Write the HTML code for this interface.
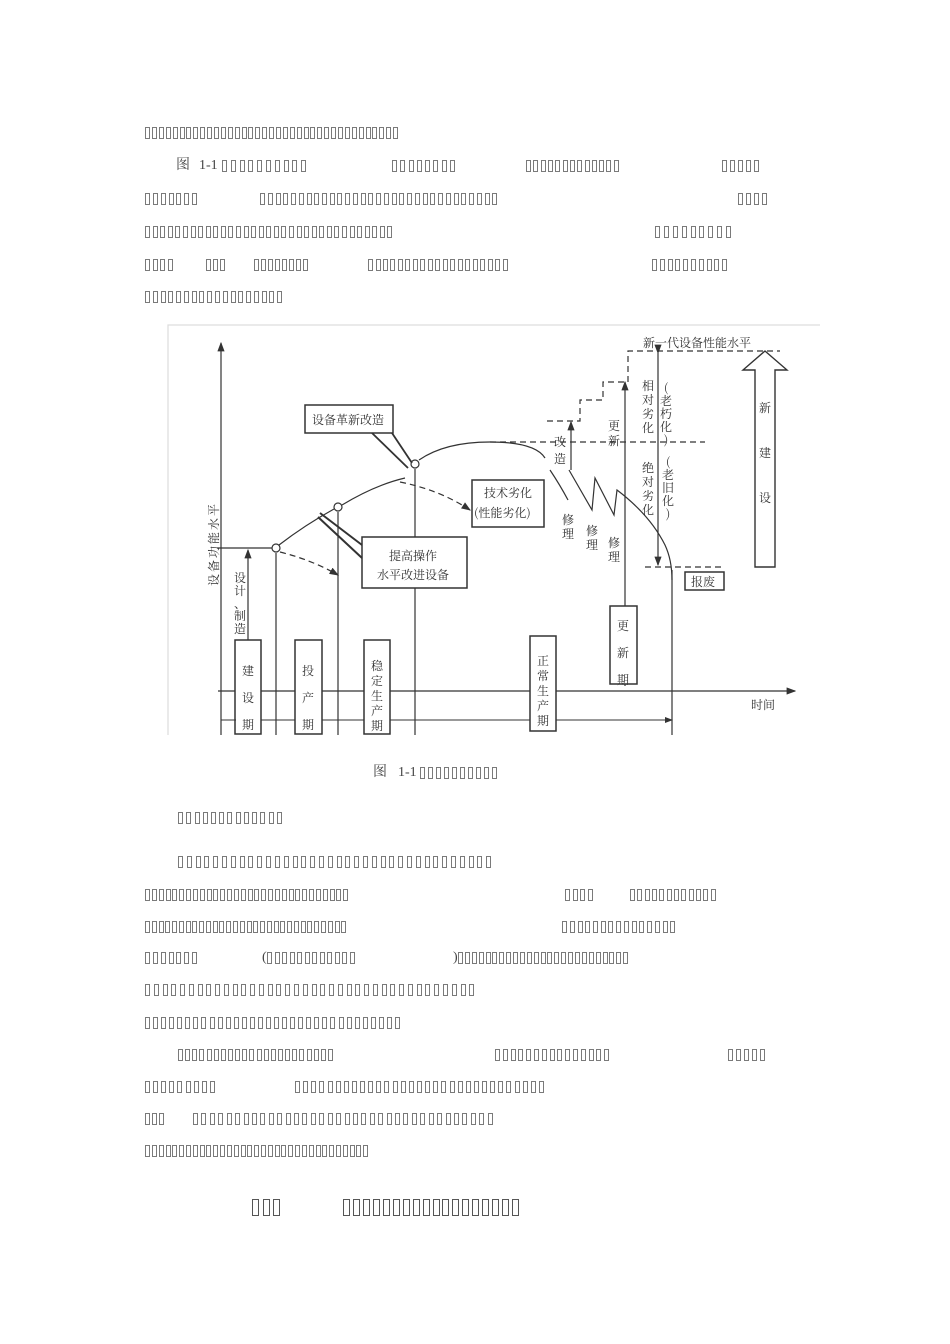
<!DOCTYPE html>
<html><head><meta charset="utf-8"><style>
html,body{margin:0;padding:0;background:#fff}
#p{position:relative;width:950px;height:1344px;overflow:hidden;font-family:"Liberation Serif","Noto Serif CJK SC",serif}
.b{position:absolute;border:1px solid #7a7a7a;box-sizing:border-box}
.t{position:absolute;font-size:14px;line-height:14px;color:#444}
svg text{font-family:"Noto Serif CJK SC","WenQuanYi Zen Hei",serif;fill:#333}
</style></head><body><div id="p">
<span class="t" style="left:176px;top:159px">图</span>
<span class="t" style="left:199px;top:159px">1-1</span>
<span class="t" style="left:262px;top:951px">(</span>
<span class="t" style="left:453px;top:951px">)</span>
<span class="t" style="left:373px;top:766px">图</span>
<span class="t" style="left:398px;top:766px">1-1</span>
<svg width="950" height="1344" style="position:absolute;left:0;top:0" stroke="#333" fill="none" stroke-width="1.2">
<defs><marker id="a" markerWidth="8" markerHeight="6" refX="7" refY="3" orient="auto"><path d="M0,0L8,3L0,6z" fill="#333" stroke="none"/></marker></defs>
<path d="M168,735V325H820" stroke="#ddd"/>
<path d="M221,735V343" marker-end="url(#a)"/>
<path d="M218,691H795" marker-end="url(#a)"/>
<path d="M217,548H276"/>
<path d="M248,640V550" marker-end="url(#a)"/>
<path d="M276,553V735M338,512V735M415,469V735M672,570V735"/>
<path d="M625,686V382" marker-end="url(#a)"/>
<path d="M279,545Q305,525 334,509"/>
<path d="M342,505Q375,485 405,478"/>
<path d="M419,460Q445,442 490,442Q535,442 545,458"/>
<path d="M550,470Q560,485 568,500"/>
<path d="M571,470V422" marker-end="url(#a)"/>
<path d="M569,470L592,510L595,478L614,515L617,490Q650,515 665,545Q672,560 672,580"/>
<path d="M280,552Q312,560 338,575" stroke-dasharray="6,4" marker-end="url(#a)"/>
<path d="M400,482Q440,490 470,510" stroke-dasharray="6,4" marker-end="url(#a)"/>
<path d="M490,442H705" stroke-dasharray="6,4"/>
<path d="M547,421H580V400H603V382H628V351H780" stroke-dasharray="6,4"/>
<path d="M645,567H725" stroke-dasharray="6,4"/>
<path d="M658,353V565" marker-end="url(#a)" marker-start="url(#a)"/>
<circle cx="276" cy="548" r="4" fill="#fff"/><circle cx="338" cy="507" r="4" fill="#fff"/><circle cx="415" cy="464" r="4" fill="#fff"/>
<path d="M755,567V370H743L765,351L787,370H775V567Z" stroke-width="1.4"/>
<rect x="305" y="405" width="88" height="28" fill="#fff" stroke-width="1.5"/>
<path d="M372,433L408,468M392,433L412,463" stroke-width="1.8"/>
<rect x="472" y="480" width="72" height="47" fill="#fff" stroke-width="1.5"/>
<rect x="362" y="537" width="105" height="51" fill="#fff" stroke-width="1.5"/>
<path d="M362,545L320,513M362,558L318,517" stroke-width="2"/>
<rect x="685" y="572" width="39" height="18" stroke-width="1.5"/>
<rect x="235" y="640" width="26" height="94" fill="#fff" stroke-width="1.5"/>
<rect x="295" y="640" width="27" height="94" fill="#fff" stroke-width="1.5"/>
<rect x="364" y="640" width="26" height="94" fill="#fff" stroke-width="1.5"/>
<rect x="530" y="636" width="26" height="95" fill="#fff" stroke-width="1.5"/>
<rect x="610" y="606" width="27" height="78" fill="#fff" stroke-width="1.5"/>
<path d="M221,720H235M261,720H276M276,720H295M322,720H338M338,720H364M390,720H415M415,720H530M556,720H672" stroke-width="1"/>
<path d="M228,720h8M268,720h8M284,720h-8M330,720h8M346,720h-8M408,720h7M423,720h-8M664,720h8" marker-end="url(#a)" stroke-width="1"/>
<g stroke="none" font-size="12">
<text x="312" y="424">设备革新改造</text>
<text x="484" y="497">技术劣化</text>
<text x="474" y="517">(性能劣化)</text>
<text x="389" y="560">提高操作</text>
<text x="377" y="579">水平改进设备</text>
<text x="691" y="586">报废</text>
<text x="643" y="347">新一代设备性能水平</text>
<text x="751" y="709" font-size="12">时间</text>
</g>
<g stroke="none" font-size="12" text-anchor="middle">
<g id="v"></g>
</g>
</svg>
<div id="bx"></div>
</div>
<script>
var V=[[218,580,"设备功能水平",-14,1],[240,572,"设计、",13],[240,610,"制造",13],[248,665,"建设期",27],[308,665,"投产期",27],[377,660,"稳定生产期",15],[543,655,"正常生产期",15],[623,620,"更新期",27],
[765,402,"新建设",45],[560,436,"改造",17],[614,420,"更新",15],[648,380,"相对劣化",14],[666,382,"(老朽化)",13],[648,462,"绝对劣化",14],[668,456,"(老旧化)",13],[568,514,"修理",14],[592,525,"修理",14],[614,537,"修理",14]];
var g=document.getElementById('v'),s='';
V.forEach(function(a){var ch=a[2].split('');ch.forEach(function(c,i){var y=a[1]+i*a[3];
if(a[4])s+='<text x="'+a[0]+'" y="'+y+'" transform="rotate(-90 '+a[0]+' '+y+')" font-size="12">'+c+'</text>';
else s+='<text x="'+a[0]+'" y="'+(y+10)+'">'+c+'</text>';});});
g.innerHTML=s;
var S=[[133,145,400,37],[166,222,310,10],[166,392,458,8],[166,526,621,13],[166,722,762,5],
[199,145,200,7],[199,260,500,31],[199,738,770,4],[232,145,395,33],[232,655,735,9],
[265,145,175,4],[265,206,227,3],[265,254,310,8],[265,368,510,19],[265,652,730,10],[297,145,285,18],
[773,420,500,10],
[818,178,285,13],[862,178,495,36],[895,145,350,30],[895,565,595,4],[895,630,718,12],
[927,145,348,30],[927,562,678,15],[958,145,200,7],[958,267,357,12],[958,458,630,25],
[990,145,478,38],[1023,145,403,32],[1055,178,335,22],[1055,495,612,15],[1055,728,768,5],
[1087,145,218,9],[1087,295,547,31],[1119,145,166,3],[1119,193,496,36],[1151,145,370,33]];
var h='';S.forEach(function(a){var p=(a[2]-a[1])/a[3];for(var i=0;i<a[3];i++)h+='<div class="b" style="left:'+(a[1]+i*p).toFixed(1)+'px;top:'+(a[0]-6)+'px;width:5px;height:12px"></div>';});
[[252,284,3],[343,522,18]].forEach(function(a){var p=(a[1]-a[0])/a[2];for(var i=0;i<a[2];i++)h+='<div class="b" style="left:'+(a[0]+i*p).toFixed(1)+'px;top:1199px;width:7px;height:17px;border-color:#555"></div>';});
document.getElementById('bx').innerHTML=h;
</script>
</body></html>
